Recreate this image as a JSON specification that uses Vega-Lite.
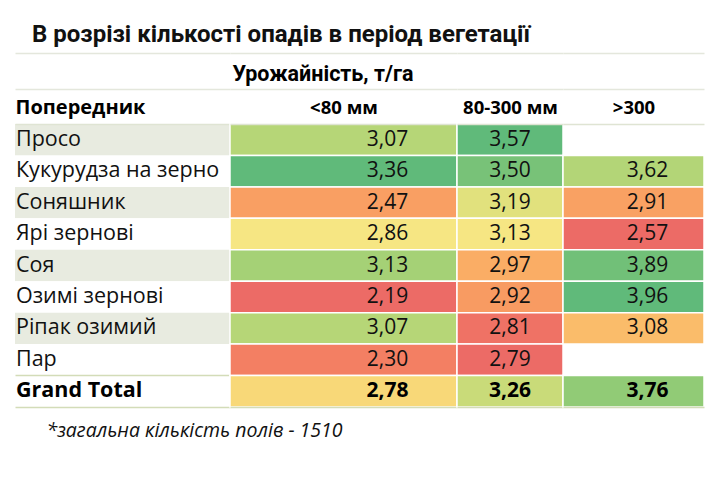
{
  "$schema": "https://vega.github.io/schema/vega-lite/v6.json",
  "padding": {"left": 15, "top": 23, "right": 0, "bottom": 0},
  "background": "#ffffff",
  "bounds": "flush",
  "spacing": 0,
  "title": {"text": "В розрізі кількості опадів в період вегетації", "anchor": "start", "dx": 17, "font": "Roboto", "fontSize": 24, "fontWeight": "bold", "color": "#111111", "offset": 6},
  "datasets": {
    "cells": [
      {"pred": "Просо", "col": "<80 мм", "v": 3.07},
      {"pred": "Просо", "col": "80-300 мм", "v": 3.57},
      {"pred": "Кукурудза на зерно", "col": "<80 мм", "v": 3.36},
      {"pred": "Кукурудза на зерно", "col": "80-300 мм", "v": 3.50},
      {"pred": "Кукурудза на зерно", "col": ">300", "v": 3.62},
      {"pred": "Соняшник", "col": "<80 мм", "v": 2.47},
      {"pred": "Соняшник", "col": "80-300 мм", "v": 3.19},
      {"pred": "Соняшник", "col": ">300", "v": 2.91},
      {"pred": "Ярі зернові", "col": "<80 мм", "v": 2.86},
      {"pred": "Ярі зернові", "col": "80-300 мм", "v": 3.13},
      {"pred": "Ярі зернові", "col": ">300", "v": 2.57},
      {"pred": "Соя", "col": "<80 мм", "v": 3.13},
      {"pred": "Соя", "col": "80-300 мм", "v": 2.97},
      {"pred": "Соя", "col": ">300", "v": 3.89},
      {"pred": "Озимі зернові", "col": "<80 мм", "v": 2.19},
      {"pred": "Озимі зернові", "col": "80-300 мм", "v": 2.92},
      {"pred": "Озимі зернові", "col": ">300", "v": 3.96},
      {"pred": "Ріпак озимий", "col": "<80 мм", "v": 3.07},
      {"pred": "Ріпак озимий", "col": "80-300 мм", "v": 2.81},
      {"pred": "Ріпак озимий", "col": ">300", "v": 3.08},
      {"pred": "Пар", "col": "<80 мм", "v": 2.30},
      {"pred": "Пар", "col": "80-300 мм", "v": 2.79},
      {"pred": "Grand Total", "col": "<80 мм", "v": 2.78},
      {"pred": "Grand Total", "col": "80-300 мм", "v": 3.26},
      {"pred": "Grand Total", "col": ">300", "v": 3.76}
    ]
  },
  "hconcat": [
    {
      "width": 215, "height": 283,
      "data": {"name": "cells"},
      "transform": [
        {"filter": "datum.col === '<80 мм'"},
        {"window": [{"op": "row_number", "as": "idx"}]}
      ],
      "layer": [
        {"mark": {"type": "rect", "opacity": 0}, "encoding": {"x": {"field": "col", "type": "nominal", "axis": {"orient": "top", "offset": 71, "title": null, "domainColor": "#e4e7dc"}}}},
        {"mark": {"type": "rect", "opacity": 0}, "encoding": {"x": {"field": "col", "type": "nominal", "axis": {"orient": "top", "offset": 35, "title": null, "domainColor": "#e4e7dc"}}}},
        {"mark": {"type": "rect", "opacity": 0}, "encoding": {"x": {"field": "col", "type": "nominal", "axis": {"orient": "bottom", "title": "*загальна кількість полів - 1510", "titleAnchor": "start", "titleAlign": "left", "titleX": 31, "titlePadding": 14, "titleLimit": 500, "titleFontWeight": "normal", "titleFontStyle": "italic", "titleFontSize": 19.5, "titleColor": "#111111", "domainColor": "#d3dcb8"}}}},
        {
          "mark": {"type": "rect"},
          "encoding": {
            "x": {"field": "col", "type": "nominal", "scale": {"paddingInner": 0, "paddingOuter": 0}, "axis": {"orient": "top", "title": "Попередник", "titleAnchor": "start", "titleAlign": "left", "titleFontSize": 20}},
            "y": {"field": "pred", "type": "nominal", "sort": null, "scale": {"domain": ["Просо", "Кукурудза на зерно", "Соняшник", "Ярі зернові", "Соя", "Озимі зернові", "Ріпак озимий", "Пар", "Grand Total"], "paddingInner": 0, "paddingOuter": 0}, "axis": {"values": ["Grand Total"], "bandPosition": 0, "grid": true, "gridColor": "#d3dcb8", "gridWidth": 1.5, "domain": false, "title": null}},
            "fill": {"condition": {"test": "datum.idx % 2 === 1 && datum.idx < 9", "value": "#e8ebe0"}, "value": "#ffffff"}
          }
        },
        {
          "transform": [{"filter": "datum.pred !== 'Grand Total'"}],
          "mark": {"type": "text", "align": "left", "baseline": "middle", "dx": 1, "font": "Open Sans", "fontSize": 21.5, "color": "#111111"},
          "encoding": {
            "x": {"field": "col", "type": "nominal", "bandPosition": 0, "axis": null},
            "y": {"field": "pred", "type": "nominal", "sort": null},
            "text": {"field": "pred"}
          }
        },
        {
          "transform": [{"filter": "datum.pred === 'Grand Total'"}],
          "mark": {"type": "text", "align": "left", "baseline": "middle", "dx": 1, "font": "Open Sans", "fontSize": 21.5, "fontWeight": "bold", "color": "#000000"},
          "encoding": {
            "x": {"field": "col", "type": "nominal", "bandPosition": 0, "axis": null},
            "y": {"field": "pred", "type": "nominal", "sort": null},
            "text": {"field": "pred"}
          }
        }
      ],
      "resolve": {"axis": {"x": "independent"}}
    },
    {
      "width": 227, "height": 283,
      "data": {"name": "cells"},
      "transform": [
        {"filter": "datum.col === '<80 мм'"},
        {"joinaggregate": [{"op": "min", "field": "v", "as": "lo"}, {"op": "median", "field": "v", "as": "md"}, {"op": "max", "field": "v", "as": "hi"}]},
        {"calculate": "clamp(datum.v < datum.md ? 0.5 * (datum.v - datum.lo) / (datum.md - datum.lo) : 0.5 + 0.5 * (datum.v - datum.md) / (datum.hi - datum.md), 0, 1)", "as": "t"},
        {"calculate": "replace(format(datum.v, '.2f'), '.', ',')", "as": "lbl"}
      ],
      "layer": [
        {"mark": {"type": "rect", "opacity": 0}, "encoding": {"x": {"field": "col", "type": "nominal", "axis": {"orient": "top", "offset": 71, "title": null, "domainColor": "#e4e7dc"}}}},
        {"mark": {"type": "rect", "opacity": 0}, "encoding": {"x": {"field": "col", "type": "nominal", "axis": {"orient": "top", "offset": 35, "title": "Урожайність, т/га", "titleAnchor": "start", "titleAlign": "left", "titleX": 2, "titleFont": "Roboto", "titleFontSize": 21.5, "titlePadding": 4, "domainColor": "#e4e7dc"}}}},
        {"mark": {"type": "rect", "opacity": 0}, "encoding": {"x": {"field": "col", "type": "nominal", "axis": {"orient": "bottom", "title": null, "domainColor": "#d3dcb8"}}}},
        {
          "mark": {"type": "rect", "stroke": "#ffffff", "strokeWidth": 1.5},
          "encoding": {
            "x": {"field": "col", "type": "nominal", "scale": {"paddingInner": 0, "paddingOuter": 0}, "axis": {"orient": "top", "title": "<80 мм"}},
            "y": {"field": "pred", "type": "nominal", "sort": null, "scale": {"domain": ["Просо", "Кукурудза на зерно", "Соняшник", "Ярі зернові", "Соя", "Озимі зернові", "Ріпак озимий", "Пар", "Grand Total"], "paddingInner": 0, "paddingOuter": 0}, "axis": null},
            "fill": {"field": "t", "type": "quantitative", "scale": {"domain": [0, 0.5, 1], "range": ["#EC6B66", "#F6E683", "#60BA7A"]}, "legend": null}
          }
        },
        {
          "transform": [{"filter": "datum.pred !== 'Grand Total'"}],
          "mark": {"type": "text", "align": "center", "baseline": "middle", "dx": 44, "font": "Open Sans", "fontSize": 21, "color": "#111111"},
          "encoding": {
            "x": {"field": "col", "type": "nominal", "axis": null},
            "y": {"field": "pred", "type": "nominal", "sort": null},
            "text": {"field": "lbl"}
          }
        },
        {
          "transform": [{"filter": "datum.pred === 'Grand Total'"}],
          "mark": {"type": "text", "align": "center", "baseline": "middle", "dx": 44, "font": "Open Sans", "fontSize": 21, "fontWeight": "bold", "color": "#000000"},
          "encoding": {
            "x": {"field": "col", "type": "nominal", "axis": null},
            "y": {"field": "pred", "type": "nominal", "sort": null},
            "text": {"field": "lbl"}
          }
        }
      ],
      "resolve": {"axis": {"x": "independent"}}
    },
    {
      "width": 106, "height": 283,
      "data": {"name": "cells"},
      "transform": [
        {"filter": "datum.col === '80-300 мм'"},
        {"joinaggregate": [{"op": "min", "field": "v", "as": "lo"}, {"op": "median", "field": "v", "as": "md"}, {"op": "max", "field": "v", "as": "hi"}]},
        {"calculate": "clamp(datum.v < datum.md ? 0.5 * (datum.v - datum.lo) / (datum.md - datum.lo) : 0.5 + 0.5 * (datum.v - datum.md) / (datum.hi - datum.md), 0, 1)", "as": "t"},
        {"calculate": "replace(format(datum.v, '.2f'), '.', ',')", "as": "lbl"}
      ],
      "layer": [
        {"mark": {"type": "rect", "opacity": 0}, "encoding": {"x": {"field": "col", "type": "nominal", "axis": {"orient": "top", "offset": 71, "title": null, "domainColor": "#e4e7dc"}}}},
        {"mark": {"type": "rect", "opacity": 0}, "encoding": {"x": {"field": "col", "type": "nominal", "axis": {"orient": "top", "offset": 35, "title": null, "domainColor": "#e4e7dc"}}}},
        {"mark": {"type": "rect", "opacity": 0}, "encoding": {"x": {"field": "col", "type": "nominal", "axis": {"orient": "bottom", "title": null, "domainColor": "#d3dcb8"}}}},
        {
          "mark": {"type": "rect", "stroke": "#ffffff", "strokeWidth": 1.5},
          "encoding": {
            "x": {"field": "col", "type": "nominal", "scale": {"paddingInner": 0, "paddingOuter": 0}, "axis": {"orient": "top", "title": "80-300 мм"}},
            "y": {"field": "pred", "type": "nominal", "sort": null, "scale": {"domain": ["Просо", "Кукурудза на зерно", "Соняшник", "Ярі зернові", "Соя", "Озимі зернові", "Ріпак озимий", "Пар", "Grand Total"], "paddingInner": 0, "paddingOuter": 0}, "axis": null},
            "fill": {"field": "t", "type": "quantitative", "scale": {"domain": [0, 0.5, 1], "range": ["#EC6B66", "#F6E683", "#60BA7A"]}, "legend": null}
          }
        },
        {
          "transform": [{"filter": "datum.pred !== 'Grand Total'"}],
          "mark": {"type": "text", "align": "center", "baseline": "middle", "dx": 0, "font": "Open Sans", "fontSize": 21, "color": "#111111"},
          "encoding": {
            "x": {"field": "col", "type": "nominal", "axis": null},
            "y": {"field": "pred", "type": "nominal", "sort": null},
            "text": {"field": "lbl"}
          }
        },
        {
          "transform": [{"filter": "datum.pred === 'Grand Total'"}],
          "mark": {"type": "text", "align": "center", "baseline": "middle", "dx": 0, "font": "Open Sans", "fontSize": 21, "fontWeight": "bold", "color": "#000000"},
          "encoding": {
            "x": {"field": "col", "type": "nominal", "axis": null},
            "y": {"field": "pred", "type": "nominal", "sort": null},
            "text": {"field": "lbl"}
          }
        }
      ],
      "resolve": {"axis": {"x": "independent"}}
    },
    {
      "width": 141, "height": 283,
      "data": {"name": "cells"},
      "transform": [
        {"filter": "datum.col === '>300'"},
        {"calculate": "datum.pred === 'Grand Total' ? null : datum.v", "as": "vn"},
        {"joinaggregate": [{"op": "min", "field": "vn", "as": "lo"}, {"op": "median", "field": "vn", "as": "md"}, {"op": "max", "field": "vn", "as": "hi"}]},
        {"calculate": "clamp(datum.v < datum.md ? 0.5 * (datum.v - datum.lo) / (datum.md - datum.lo) : 0.5 + 0.5 * (datum.v - datum.md) / (datum.hi - datum.md), 0, 1)", "as": "t"},
        {"calculate": "replace(format(datum.v, '.2f'), '.', ',')", "as": "lbl"}
      ],
      "layer": [
        {"mark": {"type": "rect", "opacity": 0}, "encoding": {"x": {"field": "col", "type": "nominal", "axis": {"orient": "top", "offset": 71, "title": null, "domainColor": "#e4e7dc"}}}},
        {"mark": {"type": "rect", "opacity": 0}, "encoding": {"x": {"field": "col", "type": "nominal", "axis": {"orient": "top", "offset": 35, "title": null, "domainColor": "#e4e7dc"}}}},
        {"mark": {"type": "rect", "opacity": 0}, "encoding": {"x": {"field": "col", "type": "nominal", "axis": {"orient": "bottom", "title": null, "domainColor": "#d3dcb8"}}}},
        {
          "mark": {"type": "rect", "stroke": "#ffffff", "strokeWidth": 1.5},
          "encoding": {
            "x": {"field": "col", "type": "nominal", "scale": {"paddingInner": 0, "paddingOuter": 0}, "axis": {"orient": "top", "title": ">300"}},
            "y": {"field": "pred", "type": "nominal", "sort": null, "scale": {"domain": ["Просо", "Кукурудза на зерно", "Соняшник", "Ярі зернові", "Соя", "Озимі зернові", "Ріпак озимий", "Пар", "Grand Total"], "paddingInner": 0, "paddingOuter": 0}, "axis": null},
            "fill": {"field": "t", "type": "quantitative", "scale": {"domain": [0, 0.5, 1], "range": ["#EC6B66", "#F6E683", "#60BA7A"]}, "legend": null}
          }
        },
        {
          "transform": [{"filter": "datum.pred !== 'Grand Total'"}],
          "mark": {"type": "text", "align": "center", "baseline": "middle", "dx": 14, "font": "Open Sans", "fontSize": 21, "color": "#111111"},
          "encoding": {
            "x": {"field": "col", "type": "nominal", "axis": null},
            "y": {"field": "pred", "type": "nominal", "sort": null},
            "text": {"field": "lbl"}
          }
        },
        {
          "transform": [{"filter": "datum.pred === 'Grand Total'"}],
          "mark": {"type": "text", "align": "center", "baseline": "middle", "dx": 14, "font": "Open Sans", "fontSize": 21, "fontWeight": "bold", "color": "#000000"},
          "encoding": {
            "x": {"field": "col", "type": "nominal", "axis": null},
            "y": {"field": "pred", "type": "nominal", "sort": null},
            "text": {"field": "lbl"}
          }
        }
      ],
      "resolve": {"axis": {"x": "independent"}}
    }
  ],
  "config": {
    "view": {"stroke": null},
    "font": "Open Sans",
    "axis": {"labels": false, "ticks": false, "grid": false, "domainColor": "#dfe4d3", "domainWidth": 1.5, "titleFont": "Open Sans", "titleFontWeight": "bold", "titleFontSize": 18.5, "titleColor": "#000000", "titlePadding": 7}
  }
}
